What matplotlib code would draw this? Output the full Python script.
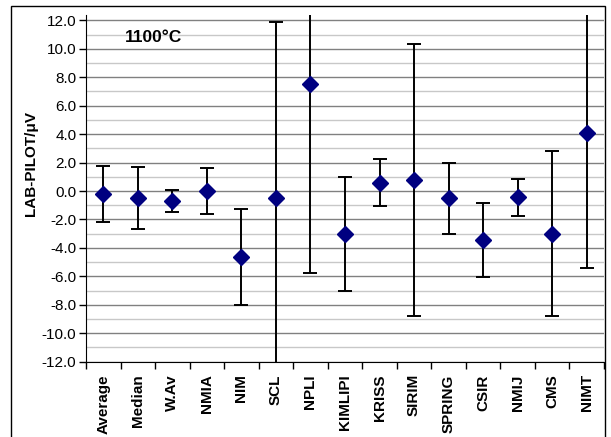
import matplotlib
matplotlib.use("Agg")
import matplotlib.pyplot as plt
from matplotlib.patches import Rectangle
import numpy as np

plt.rcParams['font.family'] = ['Liberation Sans', 'DejaVu Sans']

labs = ["Average", "Median", "W.Av", "NMIA", "NIM", "SCL", "NPLI", "KIMLIPI",
        "KRISS", "SIRIM", "SPRING", "CSIR", "NMIJ", "CMS", "NIMT"]
diff = [-0.23, -0.47, -0.68, 0.0, -4.64, -0.49, 7.55, -3.02,
        0.60, 0.75, -0.51, -3.42, -0.42, -3.0, 4.10]
unc = [1.97, 2.18, 0.78, 1.62, 3.40, 12.4, 13.3, 4.0,
       1.65, 9.56, 2.50, 2.60, 1.30, 5.80, 9.54]

fig = plt.figure(figsize=(6.11, 4.37), dpi=100)
ax = fig.add_axes([86 / 611, 1 - 361.7 / 437, 518 / 611, (361.7 - 14.7) / 437])

x = np.arange(len(labs))
ax.errorbar(x, diff, yerr=unc, fmt='D', color='#000080', ms=8.5,
            ecolor='black', elinewidth=1.4, capsize=5, capthick=1.4, zorder=3)

ax.set_xlim(-0.5, len(labs) - 0.5)
ax.set_ylim(-12, 12.4)
ax.set_yticks(np.arange(-12, 12.1, 2))
ax.set_yticks(np.arange(-11, 12, 2), minor=True)
ax.set_yticklabels([f"{v:.1f}" for v in np.arange(-12, 12.1, 2)], fontsize=11)
ax.tick_params(axis='y', which='minor', length=0)
ax.tick_params(axis='y', which='major', length=5, direction='out', width=1, pad=2)
ax.grid(axis='y', which='major', color='#808080', lw=1.0, zorder=0)
ax.grid(axis='y', which='minor', color='#c8c8c8', lw=1.0, zorder=0)

ax.set_xticks(x)
ax.set_xticklabels(labs, rotation=90, fontsize=11, fontweight='bold')
ax.tick_params(axis='x', which='major', length=0, pad=9)
ax.set_xticks(np.arange(-0.5, len(labs), 1), minor=True)
ax.tick_params(axis='x', which='minor', length=5, direction='out', width=1)

ax.spines['top'].set_visible(False)
ax.spines['right'].set_visible(False)
ax.spines['left'].set_color('black')
ax.spines['bottom'].set_color('black')

fig.text(31 / 611, 1 - 164 / 437, "LAB-PILOT/\u03bcV", rotation=90, fontsize=11,
         fontweight='bold', ha='center', va='center')
ax.text(0.075, 0.935, "1100\u00b0C", transform=ax.transAxes, fontsize=12.5,
        fontweight='bold', va='center')

fig.patches.append(Rectangle((10.5 / 611, -0.05), 594 / 611, 1.05 - 6 / 437,
                             transform=fig.transFigure, fill=False,
                             edgecolor='black', lw=1))

fig.savefig("out.png", dpi=100)
plt.close(fig)
